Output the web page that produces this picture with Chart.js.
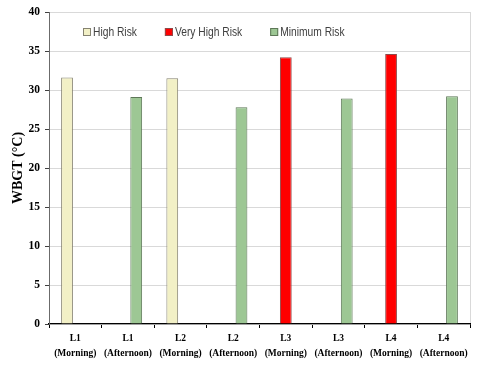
<!DOCTYPE html>
<html>
<head>
<meta charset="utf-8">
<script src="https://cdn.jsdelivr.net/npm/chart.js@4/dist/chart.umd.min.js"></script>
<style>
  html, body { margin: 0; padding: 0; background: #fff; }
  #wrap { width: 480px; height: 370px; }
</style>
</head>
<body>
<div id="wrap"><canvas id="c" width="480" height="370"></canvas></div>
<script>
// ---- data ----
const categories = [
  ["L1", "(Morning)"], ["L1", "(Afternoon)"],
  ["L2", "(Morning)"], ["L2", "(Afternoon)"],
  ["L3", "(Morning)"], ["L3", "(Afternoon)"],
  ["L4", "(Morning)"], ["L4", "(Afternoon)"]
];
const seriesNames = ["High Risk", "Very High Risk", "Minimum Risk"];
const highRisk     = [31.6, null, 31.5, null, null, null, null, null];
const veryHighRisk = [null, null, null, null, 34.2, null, 34.6, null];
const minimumRisk  = [null, 29.1, null, 27.8, null, 28.9, null, 29.2];
const yTicks = [0, 5, 10, 15, 20, 25, 30, 35, 40];
const yTitle = "WBGT (°C)";

// ---- styles ----
const serif = "'Liberation Serif', 'Times New Roman', serif";
const sans = "'Liberation Sans', Arial, sans-serif";

// Horizontal legend drawn inside the plot area (like the source chart)
const insideLegend = {
  id: 'insideLegend',
  afterDraw(chart) {
    const ctx = chart.ctx;
    const area = chart.chartArea;
    const squeeze = 0.76;
    const fontSize = 13.5;
    const box = 8;
    const gapText = 2;
    const gapItem = 28;
    let x = area.left + 34;
    const yc = area.top + 20;
    ctx.save();
    ctx.font = fontSize + 'px ' + sans;
    ctx.textBaseline = 'middle';
    chart.data.datasets.forEach(ds => {
      ctx.fillStyle = ds.backgroundColor;
      ctx.fillRect(x, yc - box / 2, box, box);
      ctx.lineWidth = 1;
      ctx.strokeStyle = ds.borderColor;
      ctx.strokeRect(x + 0.5, yc - box / 2 + 0.5, box - 1, box - 1);
      const tx = x + box + gapText;
      const w = ctx.measureText(ds.label).width * squeeze;
      ctx.save();
      ctx.translate(tx, yc);
      ctx.scale(squeeze, 1);
      ctx.fillStyle = '#404040';
      ctx.textAlign = 'left';
      ctx.fillText(ds.label, 0, 0);
      ctx.restore();
      x = tx + w + gapItem;
    });
    ctx.restore();
  }
};

new Chart(document.getElementById('c'), {
  type: 'bar',
  data: {
    labels: categories,
    datasets: [
      { label: seriesNames[0], data: highRisk, backgroundColor: '#F2F0C6', borderColor: '#858270', borderWidth: 1 },
      { label: seriesNames[1], data: veryHighRisk, backgroundColor: '#FF0000', borderColor: '#8E4A4A', borderWidth: 1 },
      { label: seriesNames[2], data: minimumRisk, backgroundColor: '#9DC794', borderColor: '#5D7757', borderWidth: 1 }
    ]
  },
  options: {
    responsive: false,
    animation: false,
    devicePixelRatio: 1,
    categoryPercentage: 0.473,
    barPercentage: 1.42,
    layout: { padding: { top: 12, right: 10, left: 0, bottom: 0 } },
    plugins: {
      legend: { display: false },
      tooltip: { enabled: false }
    },
    scales: {
      x: {
        grid: {
          offset: true,
          drawOnChartArea: true,
          color: ctx => ctx.type === 'scale' ? '#d9d9d9' : 'rgba(0,0,0,0)',
          tickColor: '#000',
          tickLength: 4
        },
        border: { color: '#000', width: 1.2 },
        ticks: {
          color: '#000',
          padding: 3,
          maxRotation: 0,
          autoSkip: false,
          font: { family: serif, size: 9.5, weight: 'bold', lineHeight: 1.55 }
        },
        afterFit: s => { s.height = 46; }
      },
      y: {
        min: 0,
        max: 40,
        afterBuildTicks: s => { s.ticks = yTicks.map(v => ({ value: v })); },
        grid: { color: '#d9d9d9', tickColor: '#404040', tickLength: 4 },
        border: { color: '#6b6b6b', width: 1 },
        ticks: {
          color: '#000',
          padding: 5,
          font: { family: serif, size: 11.5, weight: 'bold' }
        },
        title: {
          display: true,
          text: yTitle,
          color: '#000',
          padding: { top: 10, bottom: 0 },
          font: { family: serif, size: 14, weight: 'bold' }
        },
        afterFit: s => { s.width = 49; }
      }
    }
  },
  plugins: [insideLegend]
});
</script>
</body>
</html>
